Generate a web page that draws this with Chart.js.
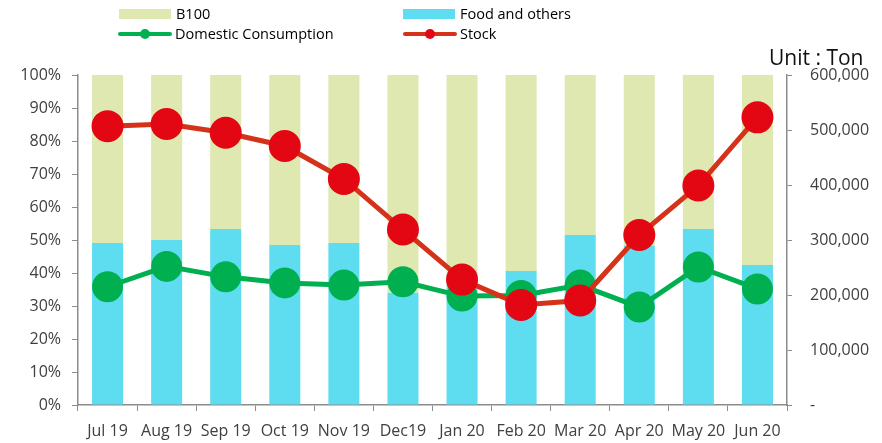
<!DOCTYPE html>
<html>
<head>
<meta charset="utf-8">
<script src="https://cdn.jsdelivr.net/npm/chart.js@4"></script>
<style>
  body { margin: 0; background: #fff; }
  #wrap { position: relative; width: 882px; height: 443px; font-family: "Open Sans", sans-serif; }
  #legend { position: absolute; left: 0; top: 0; width: 882px; height: 45px; }
  .item { position: absolute; font-size: 14.5px; color: #000; line-height: 20px; }
  .item .mark { position: absolute; }
  #unit { position: absolute; left: 769px; top: 43px; font-size: 21px; color: #111; line-height: 28px; }
</style>
</head>
<body>
<div id="wrap">
  <canvas id="chart" width="882" height="443"></canvas>
  <div id="legend"></div>
  <div id="unit">Unit : Ton</div>
</div>
<script>
// months
const months = ["Jul 19", "Aug 19", "Sep 19", "Oct 19", "Nov 19", "Dec19", "Jan 20", "Feb 20", "Mar 20", "Apr 20", "May 20", "Jun 20"];

// share of use, percent (bars)
const foodShare = [49.1, 50, 53.3, 48.5, 49.1, 34, 36.4, 40.6, 51.5, 48.3, 53.3, 42.4];
const b100Share = foodShare.map(v => +(100 - v).toFixed(1));

// tons (lines)
const consumption = [215000, 252000, 233000, 222000, 218000, 224000, 198000, 199000, 218000, 178000, 251000, 211000];
const stock = [507000, 511000, 495000, 471000, 411000, 319000, 228000, 182000, 190000, 309000, 399000, 523000];

const pctTicks = [0, 10, 20, 30, 40, 50, 60, 70, 80, 90, 100];

const green = "#00b050";
const red = "#e30613";
const redLine = "#d5321a";
const tickColor = "#404040";
const axisColor = "#8c8c8c";

const ctx = document.getElementById("chart").getContext("2d");
const chart = new Chart(ctx, {
  type: "bar",
  data: {
    labels: months,
    datasets: [
      {
        label: "Food and others",
        data: foodShare,
        backgroundColor: "#5eddf1",
        yAxisID: "y",
        stack: "share",
        order: 3,
        barPercentage: 0.525,
        categoryPercentage: 1
      },
      {
        label: "B100",
        data: b100Share,
        backgroundColor: "#dee8b0",
        yAxisID: "y",
        stack: "share",
        order: 3,
        barPercentage: 0.525,
        categoryPercentage: 1
      },
      {
        type: "line",
        label: "Domestic Consumption",
        data: consumption,
        borderColor: green,
        backgroundColor: green,
        pointBackgroundColor: green,
        pointBorderColor: green,
        borderWidth: 5,
        pointRadius: 13,
        yAxisID: "y1",
        order: 1
      },
      {
        type: "line",
        label: "Stock",
        data: stock,
        borderColor: redLine,
        backgroundColor: red,
        pointBackgroundColor: red,
        pointBorderColor: red,
        borderWidth: 5,
        pointRadius: 13.5,
        yAxisID: "y1",
        order: 0
      }
    ]
  },
  options: {
    responsive: false,
    animation: false,
    layout: { padding: { top: 75, left: 0, right: 0, bottom: 0 } },
    plugins: { legend: { display: false }, tooltip: { enabled: false } },
    scales: {
      x: {
        stacked: true,
        offset: true,
        grid: { drawOnChartArea: false, tickLength: 6, color: axisColor, offset: true },
        border: { color: axisColor, width: 1.5 },
        ticks: { color: tickColor, font: { family: "Open Sans", size: 16 }, padding: 11, maxRotation: 0 },
        afterFit: s => { s.height = 38; }
      },
      y: {
        stacked: true,
        position: "left",
        min: 0,
        max: 100,
        afterBuildTicks: s => { s.ticks = pctTicks.map(v => ({ value: v })); },
        grid: { drawOnChartArea: false, tickLength: 6, color: axisColor },
        border: { color: axisColor, width: 1.5 },
        ticks: { color: tickColor, font: { family: "Open Sans", size: 16 }, padding: 11, callback: v => v + "%" },
        afterFit: s => { s.width = 78; }
      },
      y1: {
        position: "right",
        min: 0,
        max: 600000,
        ticks: {
          stepSize: 100000,
          color: tickColor,
          font: { family: "Open Sans", size: 16 },
          padding: 18,
          callback: v => v === 0 ? "-" : v.toLocaleString("en-US")
        },
        grid: { drawOnChartArea: false, tickLength: 5, color: axisColor },
        border: { color: axisColor, width: 1.5 },
        afterFit: s => { s.width = 95; }
      }
    }
  }
});

// legend laid out in two columns like the original
const legendSpots = {
  "B100": [119, 4, "box"],
  "Food and others": [403, 4, "box"],
  "Domestic Consumption": [118, 24, "line"],
  "Stock": [403, 24, "line"]
};
const legend = document.getElementById("legend");
chart.data.datasets.forEach(ds => {
  const [x, y, kind] = legendSpots[ds.label];
  const el = document.createElement("div");
  el.className = "item";
  el.style.left = x + "px";
  el.style.top = y + "px";
  let mark;
  if (kind === "box") {
    mark = `<span class="mark" style="left:0;top:5px;width:52px;height:10px;background:${ds.backgroundColor}"></span>`;
  } else {
    mark = `<span class="mark" style="left:0;top:8px;width:54px;height:4px;border-radius:2px;background:${ds.borderColor}"></span>` +
           `<span class="mark" style="left:22px;top:5px;width:10px;height:10px;border-radius:5px;background:${ds.pointBackgroundColor}"></span>`;
  }
  el.innerHTML = mark + `<span style="position:absolute;left:57px;top:0;white-space:nowrap">${ds.label}</span>`;
  legend.appendChild(el);
});
</script>
</body>
</html>
